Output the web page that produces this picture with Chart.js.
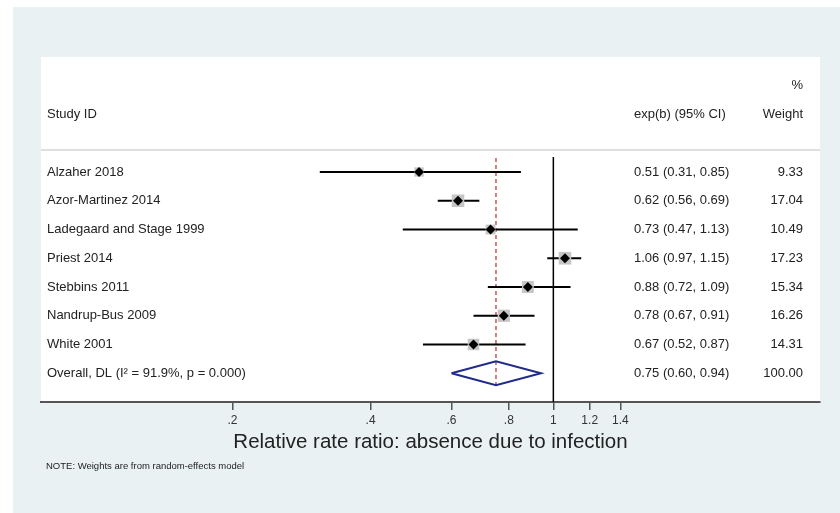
<!DOCTYPE html>
<html>
<head>
<meta charset="utf-8">
<script src="https://cdn.jsdelivr.net/npm/chart.js@4.4.1/dist/chart.umd.min.js"></script>
<style>
  html, body { margin: 0; padding: 0; background: #fff; }
  canvas { display: block; }
</style>
</head>
<body>
<canvas id="forest" width="840" height="513"></canvas>
<script>
// study rows, top to bottom
const studies = ['Alzaher 2018', 'Azor-Martinez 2014', 'Ladegaard and Stage 1999', 'Priest 2014',
  'Stebbins 2011', 'Nandrup-Bus 2009', 'White 2001'];
const estimates = [0.51, 0.62, 0.73, 1.06, 0.88, 0.78, 0.67];
const lowerCI = [0.31, 0.56, 0.47, 0.97, 0.72, 0.67, 0.52];
const upperCI = [0.85, 0.69, 1.13, 1.15, 1.09, 0.91, 0.87];
const weights = [9.33, 17.04, 10.49, 17.23, 15.34, 16.26, 14.31];

// pooled estimate
const overallLabel = 'Overall, DL (I\u00B2 = 91.9%, p = 0.000)';
const overallEst = [0.75];
const overallCI = [0.60, 0.94];
const overallWeight = [100.00];

const xTicks = [0.2, 0.4, 0.6, 0.8, 1, 1.2, 1.4];
const nullValue = 1;

const FONT = '"Liberation Sans", Arial, sans-serif';
const overallRow = studies.length;

function fmt(v) { return v.toFixed(2); }

const forestDecor = {
  id: 'forestDecor',
  beforeDraw(chart) {
    const ctx = chart.ctx, a = chart.chartArea;
    ctx.save();
    ctx.fillStyle = '#fff';
    ctx.fillRect(0, 0, chart.width, chart.height);
    ctx.fillStyle = '#e9f1f3';
    ctx.fillRect(13, 7, chart.width - 13, chart.height - 7);
    ctx.fillStyle = '#fff';
    ctx.fillRect(a.left, a.top, a.right - a.left, a.bottom - a.top);
    // header rule
    ctx.strokeStyle = '#d4d4d4';
    ctx.lineWidth = 1.5;
    ctx.beginPath();
    ctx.moveTo(a.left, 150);
    ctx.lineTo(a.right, 150);
    ctx.stroke();
    ctx.restore();
  },
  afterDraw(chart) {
    const ctx = chart.ctx, y = chart.scales.y;
    ctx.save();
    ctx.fillStyle = '#222';
    ctx.textBaseline = 'middle';
    ctx.font = '13px ' + FONT;

    // headers
    ctx.textAlign = 'right';
    ctx.fillText('%', 803, y.getPixelForValue(-3));
    ctx.fillText('Weight', 803, y.getPixelForValue(-2));
    ctx.textAlign = 'left';
    ctx.fillText('Study ID', 47, y.getPixelForValue(-2));
    ctx.fillText('exp(b) (95% CI)', 634, y.getPixelForValue(-2));

    studies.forEach((s, i) => {
      const py = y.getPixelForValue(i);
      ctx.textAlign = 'left';
      ctx.fillText(s, 47, py);
      ctx.fillText(fmt(estimates[i]) + ' (' + fmt(lowerCI[i]) + ', ' + fmt(upperCI[i]) + ')', 634, py);
      ctx.textAlign = 'right';
      ctx.fillText(fmt(weights[i]), 803, py);
    });

    const oy = y.getPixelForValue(overallRow);
    ctx.textAlign = 'left';
    ctx.fillText(overallLabel, 47, oy);
    ctx.fillText(fmt(overallEst[0]) + ' (' + fmt(overallCI[0]) + ', ' + fmt(overallCI[1]) + ')', 634, oy);
    ctx.textAlign = 'right';
    ctx.fillText(fmt(overallWeight[0]), 803, oy);

    ctx.textAlign = 'left';
    ctx.font = '9.5px ' + FONT;
    ctx.fillText('NOTE: Weights are from random-effects model', 46, 466);
    ctx.restore();
  }
};

const datasets = [];
// point estimates (black diamonds)
datasets.push({
  data: estimates.map((v, i) => ({ x: v, y: i })),
  pointStyle: 'rectRot', pointRadius: 5,
  backgroundColor: '#000', borderColor: '#000', borderWidth: 0
});
// weight boxes
datasets.push({
  data: estimates.map((v, i) => ({ x: v, y: i })),
  pointStyle: 'rect', pointRadius: weights.map(w => 2.15 * Math.sqrt(w)),
  backgroundColor: '#c6c6c6', borderWidth: 0
});
// confidence intervals
studies.forEach((s, i) => {
  datasets.push({
    data: [{ x: lowerCI[i], y: i }, { x: upperCI[i], y: i }],
    showLine: true, borderColor: '#000', borderWidth: 2, pointRadius: 0
  });
});
// overall diamond
datasets.push({
  data: [
    { x: overallCI[0], y: overallRow },
    { x: overallEst[0], y: overallRow - 0.42 },
    { x: overallCI[1], y: overallRow },
    { x: overallEst[0], y: overallRow + 0.42 },
    { x: overallCI[0], y: overallRow }
  ],
  showLine: true, borderColor: '#1f2a8a', borderWidth: 2, pointRadius: 0, tension: 0
});
// pooled estimate reference line
datasets.push({
  data: [{ x: overallEst[0], y: -0.49 }, { x: overallEst[0], y: overallRow + 0.41 }],
  showLine: true, borderColor: '#b8403f', borderWidth: 1.3, borderDash: [4, 3], pointRadius: 0
});
// line of no effect
datasets.push({
  data: [{ x: nullValue, y: -0.52 }, { x: nullValue, y: 8 }],
  showLine: true, borderColor: '#000', borderWidth: 1.5, pointRadius: 0
});

new Chart(document.getElementById('forest'), {
  type: 'scatter',
  data: { datasets },
  options: {
    responsive: false,
    animation: false,
    layout: { padding: { left: 41, right: 20, top: 57, bottom: 54 } },
    plugins: { legend: { display: false }, tooltip: { enabled: false } },
    scales: {
      x: {
        type: 'logarithmic',
        min: 0.0766, max: 3.808,
        bounds: 'data',
        afterBuildTicks: scale => { scale.ticks = xTicks.map(v => ({ value: v })); },
        grid: { drawOnChartArea: false, color: '#555', tickLength: 8, lineWidth: 1.5 },
        border: { display: true, color: '#555', width: 2 },
        ticks: {
          color: '#333', padding: 3, maxRotation: 0, autoSkip: false,
          font: { family: FONT, size: 12 },
          callback: v => String(v).replace(/^0\./, '.')
        },
        title: {
          display: true,
          text: 'Relative rate ratio: absence due to infection',
          color: '#222',
          font: { family: FONT, size: 20.5 },
          padding: { top: 0, bottom: 4 }
        }
      },
      y: { type: 'linear', reverse: true, min: -4, max: 8, display: false }
    }
  },
  plugins: [forestDecor]
});
</script>
</body>
</html>
